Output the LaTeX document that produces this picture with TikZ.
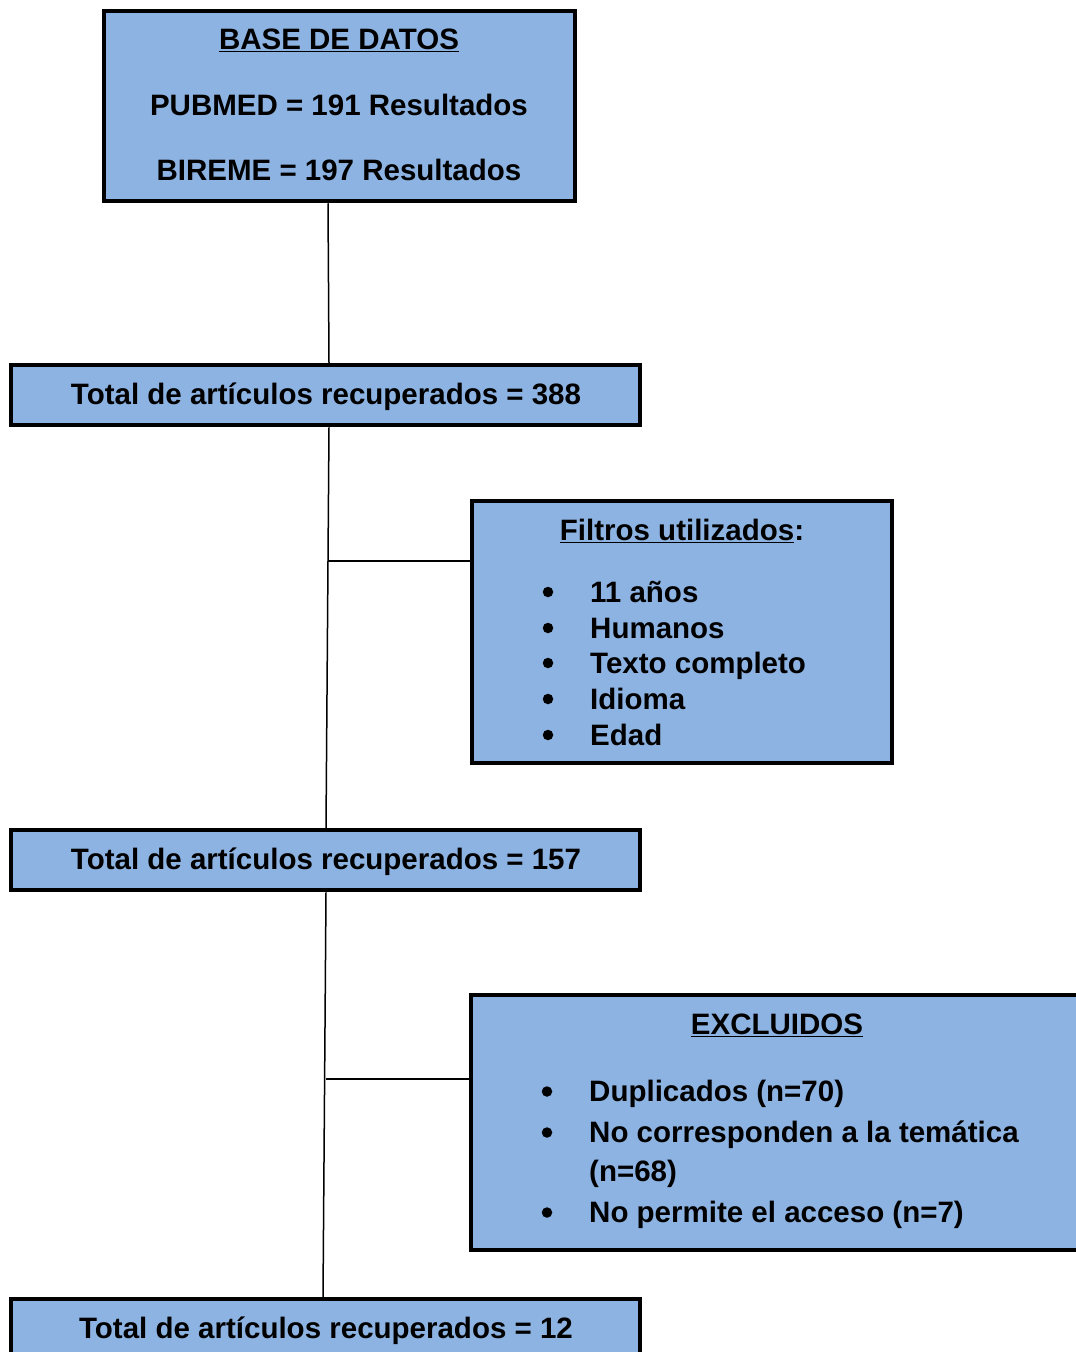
\documentclass[tikz,border=0pt]{standalone}
\usepackage{fontspec}
\setmainfont{Liberation Sans}
\definecolor{boxblue}{HTML}{8DB3E2}
\begin{document}
\begin{tikzpicture}[x=1pt,y=-1pt,
  font=\fontsize{29.5}{35}\selectfont\bfseries,
  box/.style={draw=black, line width=4.5pt, fill=boxblue, inner sep=0pt},
  conn/.style={line width=1.5pt, draw=black},
  txt/.style={inner sep=0pt, anchor=base},
  item/.style={inner sep=0pt, anchor=base west},
  bul/.style={circle, fill=black, inner sep=0pt, minimum size=10.5pt}]
\useasboundingbox (0,0) rectangle (1076,1352);
% boxes
\node[box, minimum width=471pt, minimum height=190pt] (b1) at (339.5,106) {};
\node[box, minimum width=629pt, minimum height=60pt] (b2) at (325.5,395) {};
\node[box, minimum width=420pt, minimum height=262pt] (b3) at (682,632) {};
\node[box, minimum width=629pt, minimum height=60pt] (b4) at (325.5,860) {};
\node[box, minimum width=629pt, minimum height=255pt] (b5) at (785.5,1122.5) {};
\node[box, minimum width=629pt, minimum height=60pt] (b6) at (325.5,1329) {};
% connectors
\draw[conn] ([xshift=-11.5pt]b1.south) -- ([xshift=3.5pt]b2.north);
\draw[conn] ([xshift=3.5pt]b2.south) -- ([xshift=0.5pt]b4.north);
\draw[conn] ([yshift=71pt]b3.west) -- ++(-142,0) coordinate (j1);
\draw[conn] ([xshift=0.5pt]b4.south) -- ([xshift=-2.5pt]b6.north);
\draw[conn] ([yshift=43.5pt]b5.west) -- ++(-143,0) coordinate (j2);
% box 1 text
\node[txt] (t1a) at (339,49.5) {\underline{BASE DE DATOS}};
\node[txt] (t1b) at (339,115.5) {PUBMED = 191 Resultados};
\node[txt] (t1c) at (339,180.5) {BIREME = 197 Resultados};
% box 2,4,6 text
\node[txt] (t2) at (326,404.5) {Total de artículos recuperados = 388};
\node[txt] (t4) at (326,869.5) {Total de artículos recuperados = 157};
\node[txt] (t6) at (326,1338.5) {Total de artículos recuperados = 12};
% box 3 text
\node[txt] (t3) at (682,540.5) {\underline{Filtros utilizados}:};
\foreach \yy/\tx [count=\i] in {602.5/11 años, 638.5/Humanos, 673.5/Texto completo, 709.5/Idioma, 745.5/Edad}{
  \node[bul] (fb\i) at (548,\yy-10.5) {};
  \node[item] (fi\i) at (590,\yy) {\tx};
}
% box 5 text
\node[txt] (t5) at (777,1034.5) {\underline{EXCLUIDOS}};
\node[bul] (eb1) at (547,1091.5) {};
\node[item] (ei1) at (589,1101.5) {Duplicados (n=70)};
\node[bul] (eb2) at (547,1132.5) {};
\node[item] (ei2) at (589,1142.5) {No corresponden a la temática};
\node[item] (ei2b) at (589,1181.5) {(n=68)};
\node[bul] (eb3) at (547,1212.5) {};
\node[item] (ei3) at (589,1222.5) {No permite el acceso (n=7)};
\end{tikzpicture}
\end{document}
